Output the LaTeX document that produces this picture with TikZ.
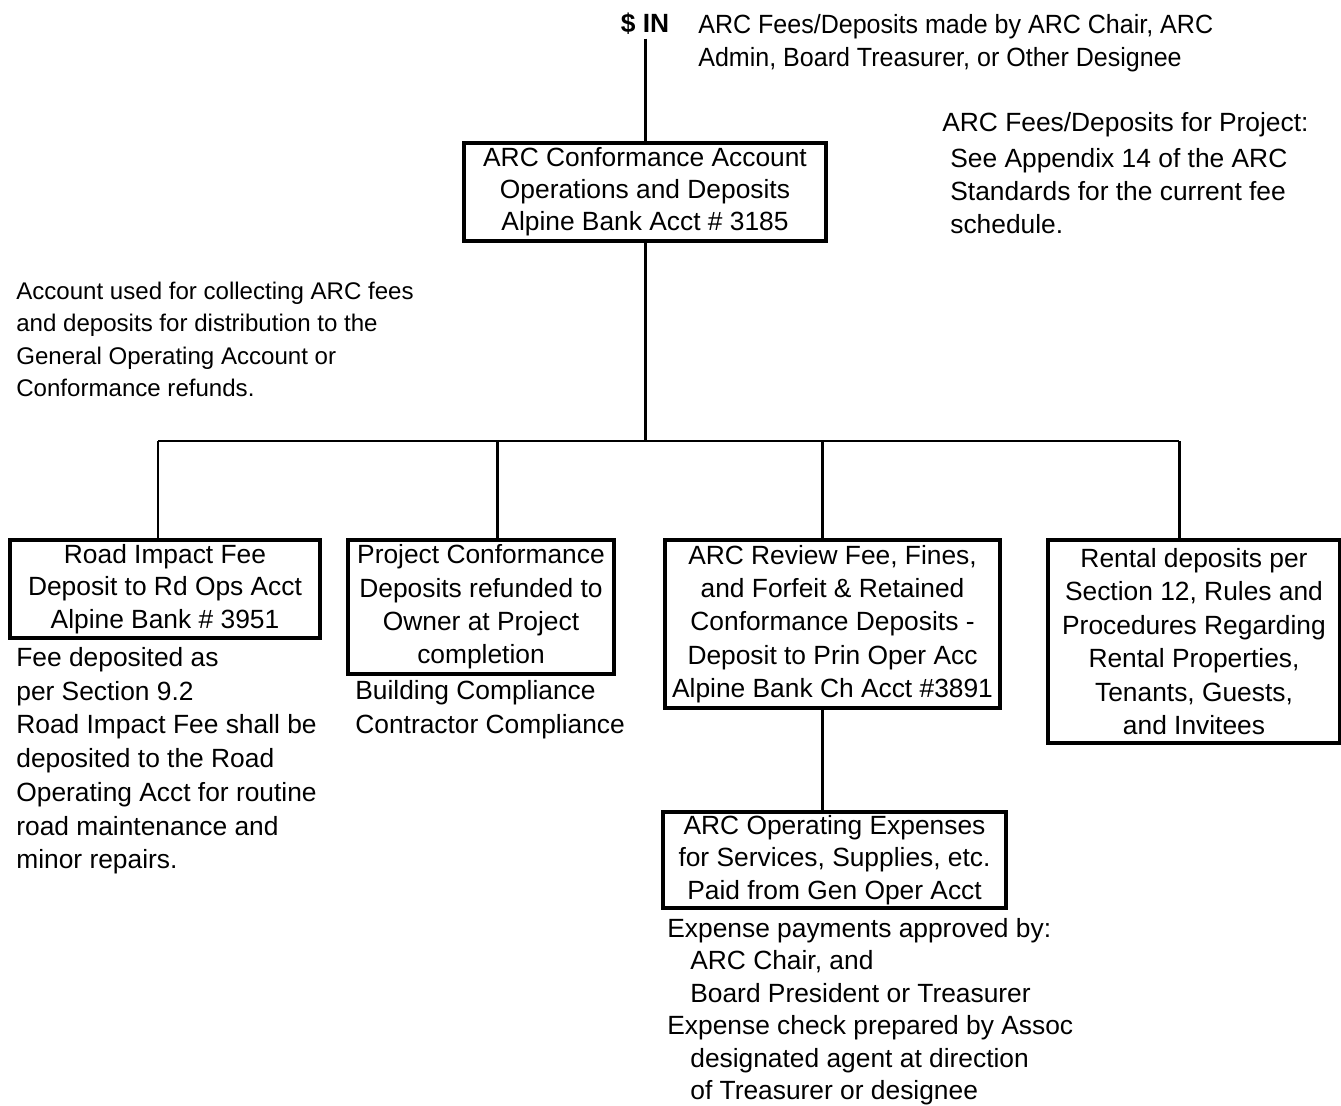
\documentclass[tikz,border=0pt]{standalone}
\usepackage{fontspec}
\setmainfont{Liberation Sans}
\newfontfamily\narrowsans[FakeStretch=0.95]{Liberation Sans}
\begin{document}
\begin{tikzpicture}[x=0.02cm,y=-0.02cm,
  box/.style={draw, line width=2pt, inner sep=0pt, align=center, font=\fontsize{15}{18.6}\selectfont},
  conn/.style={line width=1.7pt},
  note/.style={inner sep=0pt, align=left, anchor=north west, font=\fontsize{15}{18.8}\selectfont}]
\useasboundingbox (0,0) rectangle (1341,1105);
% header
\node[inner sep=2pt, font=\fontsize{15}{18}\selectfont\bfseries] (in) at (645,24) {\$ IN};
\node[note, font=\narrowsans\fontsize{15}{18.8}\selectfont] (madeby) at (698,14)
  {ARC Fees/Deposits made by ARC Chair, ARC\\Admin, Board Treasurer, or Other Designee};
% main account
\node[box, minimum width=7.24cm, minimum height=1.96cm, font=\fontsize{15}{18.2}\selectfont] (top) at (645,192)
  {ARC Conformance Account\\Operations and Deposits\\Alpine Bank Acct \# 3185};
\node[note] (proj) at (942,112)
  {ARC Fees/Deposits for Project:\\[1.5pt]
   \hspace*{0.16cm}See Appendix 14 of the ARC\\
   \hspace*{0.16cm}Standards for the current fee\\
   \hspace*{0.16cm}schedule.};
\node[note, font=\fontsize{13.7}{18.3}\selectfont] (acct) at (16,282)
  {Account used for collecting ARC fees\\and deposits for distribution to the\\General Operating Account or\\Conformance refunds.};
% second level boxes
\node[box, minimum width=6.2cm, minimum height=1.96cm] (A) at (165,589)
  {Road Impact Fee\\Deposit to Rd Ops Acct\\Alpine Bank \# 3951};
\node[box, minimum width=5.32cm, minimum height=2.68cm, font=\fontsize{15}{19}\selectfont] (B) at (481,607)
  {Project Conformance\\Deposits refunded to\\Owner at Project\\completion};
\node[box, minimum width=6.7cm, minimum height=3.36cm, font=\fontsize{15}{19}\selectfont] (C) at (832.5,624)
  {ARC Review Fee, Fines,\\and Forfeit \& Retained\\Conformance Deposits -\\Deposit to Prin Oper Acc\\Alpine Bank Ch Acct \#3891};
\node[box, minimum width=5.84cm, minimum height=4.06cm, font=\fontsize{15}{19.1}\selectfont] (D) at (1194,641.5)
  {Rental deposits per\\Section 12, Rules and\\Procedures Regarding\\Rental Properties,\\Tenants, Guests,\\and Invitees};
% notes under boxes
\node[note, font=\fontsize{15}{19.2}\selectfont] (Anote) at (16,647)
  {Fee deposited as\\per Section 9.2\\Road Impact Fee shall be\\deposited to the Road\\Operating Acct for routine\\road maintenance and\\minor repairs.};
\node[note, font=\fontsize{15}{19.3}\selectfont] (Bnote) at (355,680)
  {Building Compliance\\Contractor Compliance};
% third level
\node[box, minimum width=6.86cm, minimum height=1.92cm, font=\fontsize{15}{18.4}\selectfont] (E) at (834.5,860)
  {ARC Operating Expenses\\for Services, Supplies, etc.\\Paid from Gen Oper Acct};
\node[note, font=\fontsize{15}{18.5}\selectfont] (Enote) at (667,918)
  {Expense payments approved by:\\
   \hspace*{0.46cm}ARC Chair, and\\
   \hspace*{0.46cm}Board President or Treasurer\\
   Expense check prepared by Assoc\\
   \hspace*{0.46cm}designated agent at direction\\
   \hspace*{0.46cm}of Treasurer or designee};
% connectors
\coordinate (bus) at (645,441);
\coordinate (dA) at (158,441);
\coordinate (dB) at (497,441);
\coordinate (dC) at (822,441);
\coordinate (dD) at (1179,441);
\draw[conn] (in.south) -- (top.north);
\draw[conn] (top.south) -- (bus);
\draw[conn] (dA) -- (dD);
\draw[conn] (dA) -- (dA |- A.north);
\draw[conn] (dB) -- (dB |- B.north);
\draw[conn] (dC) -- (dC |- C.north);
\draw[conn] (dD) -- (dD |- D.north);
\draw[conn] (dC |- C.south) -- (dC |- E.north);
\end{tikzpicture}
\end{document}
